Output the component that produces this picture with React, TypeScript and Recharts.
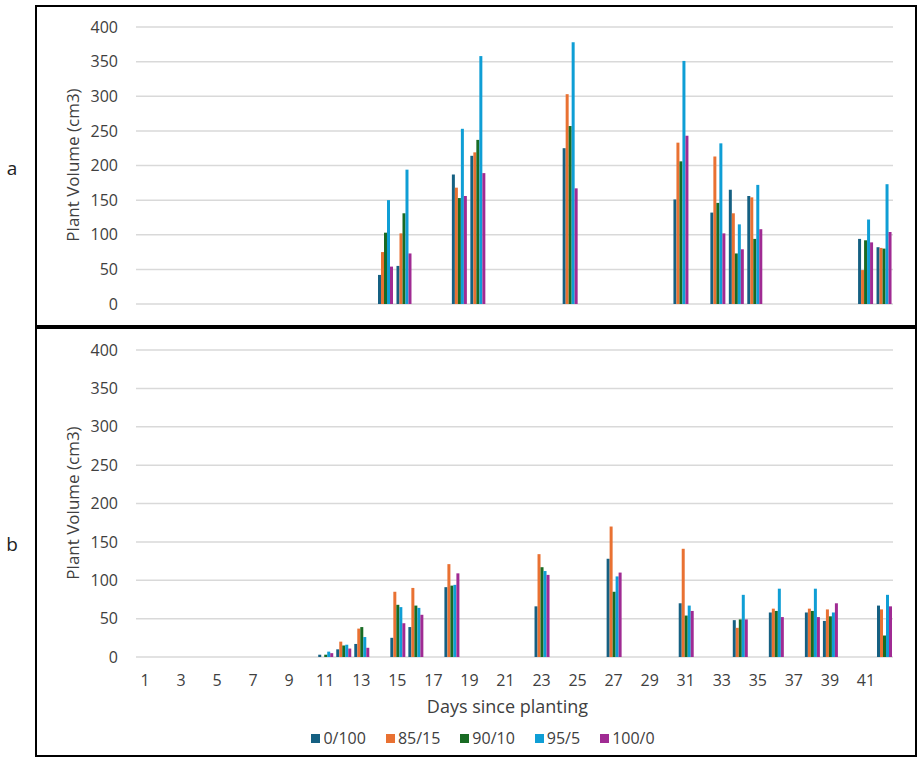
import React from 'react';
import { BarChart, Bar, XAxis, YAxis, CartesianGrid, Legend } from 'recharts';

const SERIES = ['0/100', '85/15', '90/10', '95/5', '100/0'];
const COLORS = ['#156082', '#E97132', '#196B24', '#0F9ED5', '#A02B93'];
const Y_TICKS = [0, 50, 100, 150, 200, 250, 300, 350, 400];

// Panel a
const DAY_COUNT_A = 41;
const DAYS_A = [14, 15, 18, 19, 24, 30, 32, 33, 34, 40, 41];
const A_0_100 = [42, 55, 187, 214, 225, 151, 132, 165, 156, 94, 82];
const A_85_15 = [75, 102, 168, 219, 303, 233, 213, 131, 154, 49, 81];
const A_90_10 = [103, 131, 153, 237, 257, 206, 146, 73, 94, 92, 80];
const A_95_5 = [150, 194, 253, 358, 378, 351, 232, 115, 172, 122, 173];
const A_100_0 = [54, 73, 156, 189, 167, 243, 102, 79, 108, 89, 104];

// Panel b
const DAY_COUNT_B = 42;
const DAYS_B = [11, 12, 13, 15, 16, 18, 23, 27, 31, 34, 36, 38, 39, 42];
const B_0_100 = [3, 10, 17, 25, 39, 91, 66, 128, 70, 48, 58, 58, 47, 67];
const B_85_15 = [0, 20, 37, 85, 90, 121, 134, 170, 141, 38, 63, 63, 62, 62];
const B_90_10 = [3, 15, 39, 68, 67, 93, 117, 85, 54, 49, 60, 60, 53, 28];
const B_95_5 = [7, 16, 26, 65, 64, 94, 112, 105, 67, 81, 89, 89, 58, 81];
const B_100_0 = [5, 11, 12, 44, 55, 109, 107, 110, 60, 49, 52, 52, 70, 66];

const FONT = '"Open Sans", sans-serif';
const TEXT = '#404040';

function buildRows(count: number, days: number[], cols: number[][]) {
  const rows: any[] = [];
  for (let d = 1; d <= count; d++) {
    const row: any = { day: String(d) };
    const i = days.indexOf(d);
    SERIES.forEach((_, k) => {
      row['s' + k] = i >= 0 ? cols[k][i] : null;
    });
    rows.push(row);
  }
  return rows;
}

const dataA = buildRows(DAY_COUNT_A, DAYS_A, [A_0_100, A_85_15, A_90_10, A_95_5, A_100_0]);
const dataB = buildRows(DAY_COUNT_B, DAYS_B, [B_0_100, B_85_15, B_90_10, B_95_5, B_100_0]);

const tickStyle = { fontSize: 16, fill: TEXT, fontFamily: FONT };

const renderLegend = () => (
  <div
    style={{
      display: 'flex',
      justifyContent: 'center',
      gap: 20,
      fontFamily: FONT,
      fontSize: 16,
      color: TEXT,
      lineHeight: '20px',
    }}
  >
    {SERIES.map((s, i) => (
      <div key={s} style={{ display: 'flex', alignItems: 'center' }}>
        <span
          style={{
            width: 9,
            height: 9,
            background: COLORS[i],
            marginRight: 3,
            display: 'inline-block',
          }}
        />
        {s}
      </div>
    ))}
  </div>
);

const bars = () =>
  SERIES.map((s, k) => (
    <Bar
      key={s}
      dataKey={'s' + k}
      name={s}
      fill={COLORS[k]}
      barSize={3}
      isAnimationActive={false}
    />
  ));

const yTitle = (top: number) => (
  <div
    style={{
      position: 'absolute',
      left: 72,
      top,
      transform: 'translate(-50%, -50%) rotate(-90deg)',
      whiteSpace: 'nowrap',
      fontFamily: FONT,
      fontSize: 17,
      color: TEXT,
    }}
  >
    Plant Volume (cm3)
  </div>
);

const panelLetter = (letter: string, top: number) => (
  <div
    style={{
      position: 'absolute',
      left: 12,
      top,
      transform: 'translate(-50%, -50%)',
      fontFamily: FONT,
      fontSize: 19,
      color: '#222',
    }}
  >
    {letter}
  </div>
);

export default function App() {
  return (
    <div
      style={{
        position: 'absolute',
        left: 0,
        top: 0,
        width: 920,
        height: 760,
        background: '#fff',
        overflow: 'hidden',
      }}
    >
      <div
        style={{
          position: 'absolute',
          left: 35,
          top: 5,
          width: 882,
          height: 752,
          border: '2px solid #000',
          boxSizing: 'border-box',
        }}
      />
      <div
        style={{
          position: 'absolute',
          left: 35,
          top: 325,
          width: 882,
          height: 4,
          background: '#000',
        }}
      />
      {panelLetter('a', 168)}
      {panelLetter('b', 544)}
      {yTitle(165)}
      {yTitle(503)}

      <div style={{ position: 'absolute', left: 0, top: 0 }}>
        <BarChart
          width={920}
          height={325}
          data={dataA}
          margin={{ top: 27, right: 27, bottom: 21, left: 76 }}
          barGap={0}
        >
          <CartesianGrid vertical={false} stroke="#d9d9d9" strokeWidth={1.5} />
          <XAxis dataKey="day" hide />
          <YAxis
            width={60}
            domain={[0, 400]}
            ticks={Y_TICKS}
            axisLine={false}
            tickLine={false}
            tickSize={0}
            tickMargin={18}
            tick={tickStyle}
            interval={0}
          />
          {bars()}
        </BarChart>
      </div>

      <div style={{ position: 'absolute', left: 0, top: 326 }}>
        <BarChart
          width={920}
          height={434}
          data={dataB}
          margin={{ top: 24, right: 27, bottom: 63, left: 76 }}
          barGap={0}
        >
          <CartesianGrid vertical={false} stroke="#d9d9d9" strokeWidth={1.5} />
          <XAxis
            dataKey="day"
            height={40}
            interval={1}
            axisLine={false}
            tickLine={false}
            tickSize={0}
            tickMargin={18}
            tick={tickStyle}
            label={{
              value: 'Days since planting',
              position: 'insideBottom',
              offset: -16,
              dx: -7,
              style: { fontSize: 18, fill: TEXT, fontFamily: FONT },
            }}
          />
          <YAxis
            width={60}
            domain={[0, 400]}
            ticks={Y_TICKS}
            axisLine={false}
            tickLine={false}
            tickSize={0}
            tickMargin={18}
            tick={tickStyle}
            interval={0}
          />
          {bars()}
          <Legend
            layout="horizontal"
            verticalAlign="middle"
            align="center"
            width={600}
            wrapperStyle={{ top: 402, left: 183, width: 600 }}
            content={renderLegend}
          />
        </BarChart>
      </div>
    </div>
  );
}
